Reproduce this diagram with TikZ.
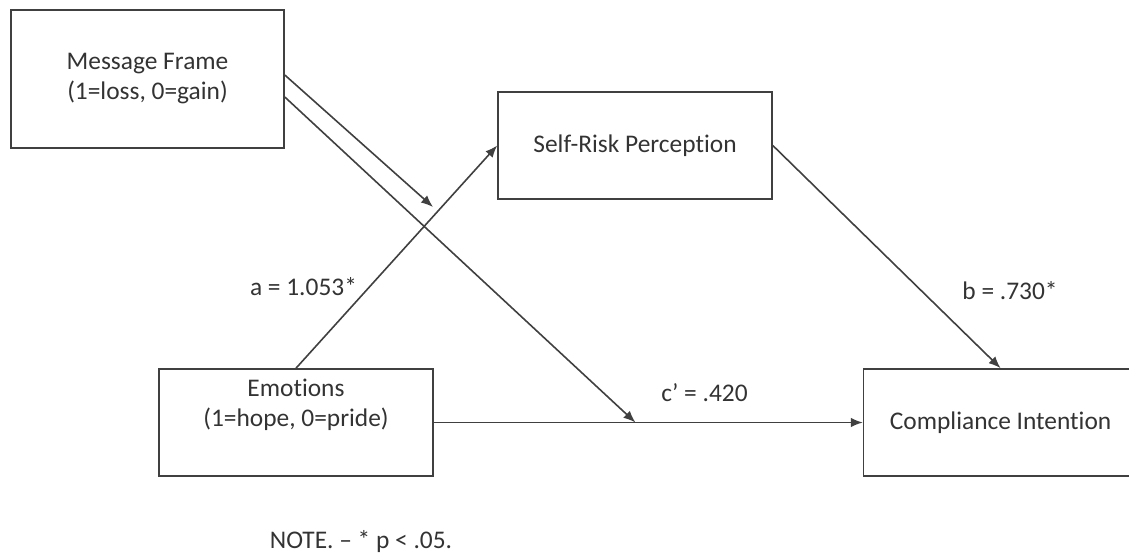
\documentclass[tikz,border=0pt]{standalone}
\usepackage{fontspec}
\setmainfont[Ligatures={NoCommon}]{Carlito}
\usetikzlibrary{positioning,arrows.meta,calc}
\definecolor{linegray}{RGB}{64,64,64}
\definecolor{textgray}{RGB}{51,51,51}

\begin{document}
\begin{tikzpicture}[x=0.5pt, y=-0.5pt, line width=0.8pt, draw=linegray,
        >={Latex[length=6pt,width=4.8pt]},
        main/.style = {draw=linegray, text=textgray, align=center, inner sep=0pt,
                       minimum width=137pt, minimum height=53.5pt,
                       font=\fontsize{12.7pt}{15pt}\selectfont},
        lbl/.style = {text=textgray, inner sep=0pt, font=\fontsize{12.7pt}{15pt}\selectfont}]
            \useasboundingbox (0,0) rectangle (1129,558);

            \node[main, minimum width=136.5pt, minimum height=69pt] (mf) at (147.5,79) {Message Frame\\(1=loss, 0=gain)};
            \node[main] (srp) at (635,145.5) {Self-Risk Perception};
            \node[main] (emo) at (296,422.5) {Emotions\\(1=hope, 0=pride)\\\strut};
            \node[main] (ci) [right=214.5pt of emo] {Compliance Intention};

            \coordinate (modpt) at (433,207);
            \coordinate (cjoin) at ($(emo.east)!0.47!(ci.west)$);

            \draw[->] (emo.north) -- (srp.west);
            \draw[->] (srp.east) -- (ci.north);
            \draw[->] (emo.east) -- (ci.west);
            \draw[->] ([yshift=2pt]mf.east) -- (modpt);
            \draw[->] ([yshift=-9pt]mf.east) -- (cjoin);

            \node[lbl] (la) at (303.5,287) {a = 1.053*};
            \node[lbl] (lb) at (1010,291) {b = .730*};
            \node[lbl] (lc) at (704.5,393) {c’ = .420};
            \node[lbl] (note) at (361,542) {NOTE. – * p < .05.};
        \end{tikzpicture}
\end{document}
